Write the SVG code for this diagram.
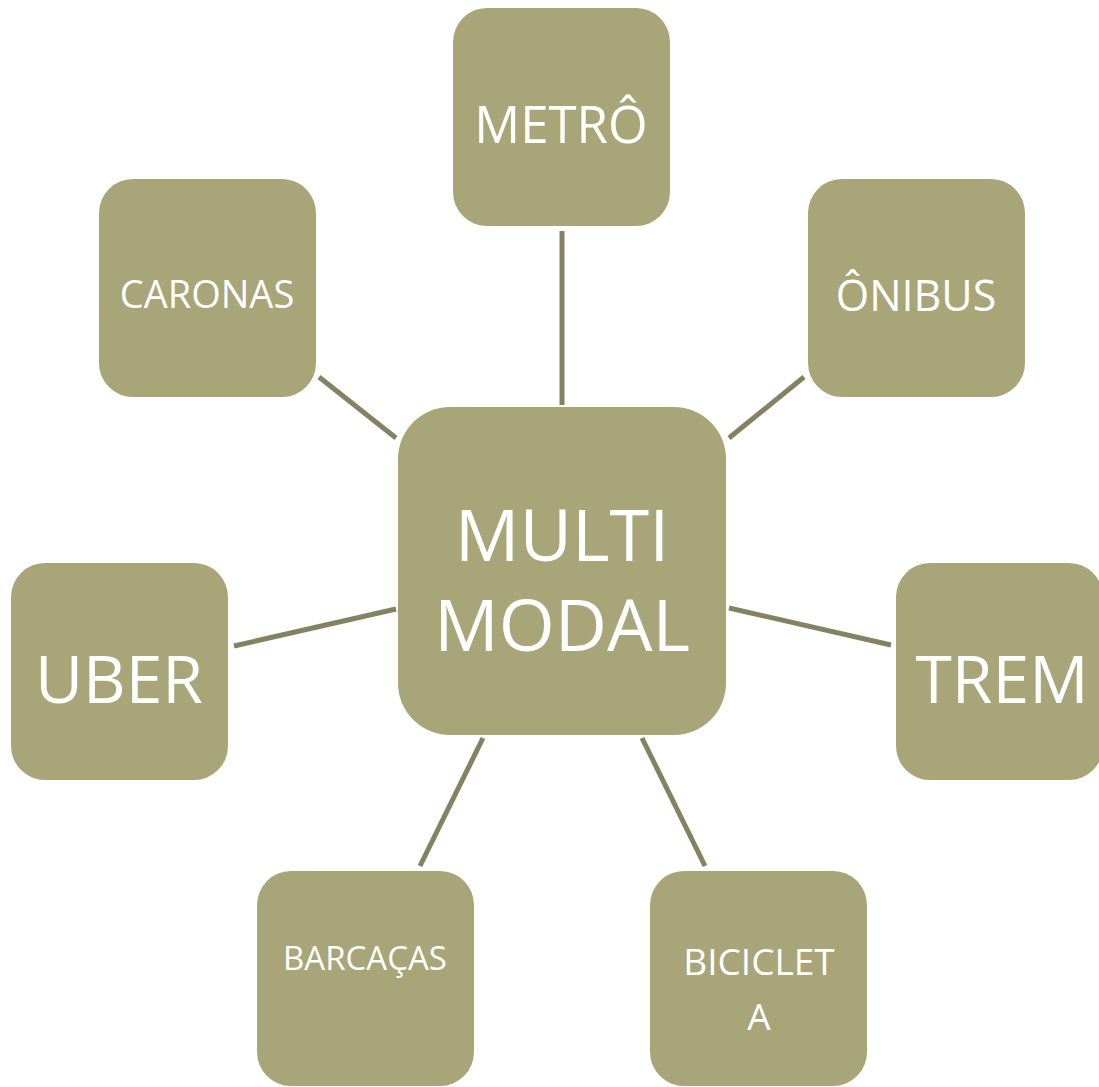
<svg xmlns="http://www.w3.org/2000/svg" width="1099" height="1087" viewBox="0 0 1099 1087">
<style>
.box{fill:#A8A579;}
.t{fill:#FFFFFF;font-family:"Open Sans","Noto Sans",sans-serif;text-anchor:middle;}
.c{stroke:#848262;stroke-width:5;fill:none;}
</style>
<rect width="1099" height="1087" fill="#FFFFFF"/>
<g id="connectors">
<line class="c" x1="562" y1="231" x2="562" y2="405"/>
<line class="c" x1="319" y1="377" x2="396" y2="438"/>
<line class="c" x1="804" y1="377" x2="729" y2="438"/>
<line class="c" x1="234" y1="646" x2="396" y2="609"/>
<line class="c" x1="729" y1="608" x2="891" y2="645"/>
<line class="c" x1="483" y1="738" x2="420" y2="866"/>
<line class="c" x1="642" y1="738" x2="705" y2="866"/>
</g>
<g id="center">
<rect class="box" x="398" y="407" width="328" height="328" rx="52"/>
<text class="t" x="562" y="561" font-size="72">MULTI</text>
<text class="t" x="562" y="651" font-size="72">MODAL</text>
</g>
<g id="metro">
<rect class="box" x="453" y="8" width="217" height="218" rx="34"/>
<text class="t" x="561" y="143" font-size="51">METRÔ</text>
</g>
<g id="caronas">
<rect class="box" x="99" y="179" width="217" height="218" rx="34"/>
<text class="t" x="207" y="308" font-size="38">CARONAS</text>
</g>
<g id="onibus">
<rect class="box" x="808" y="179" width="217" height="218" rx="34"/>
<text class="t" x="916" y="311" font-size="43">ÔNIBUS</text>
</g>
<g id="uber">
<rect class="box" x="11" y="563" width="217" height="217" rx="34"/>
<text class="t" x="119" y="703" font-size="66">UBER</text>
</g>
<g id="trem">
<rect class="box" x="896" y="563" width="207" height="217" rx="34"/>
<text class="t" x="1002" y="703" font-size="66">TREM</text>
</g>
<g id="barcacas">
<rect class="box" x="257" y="871" width="217" height="215" rx="34"/>
<text class="t" x="365" y="970" font-size="33">BARCAÇAS</text>
</g>
<g id="bicicleta">
<rect class="box" x="650" y="871" width="217" height="215" rx="34"/>
<text class="t" x="759" y="975" font-size="37">BICICLET</text>
<text class="t" x="759" y="1030" font-size="37">A</text>
</g>
</svg>
